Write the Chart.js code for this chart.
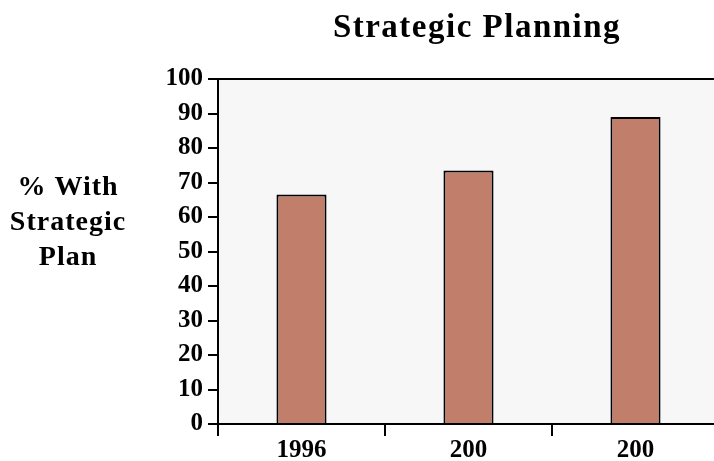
<!DOCTYPE html>
<html>
<head>
<meta charset="utf-8">
<script src="https://cdn.jsdelivr.net/npm/chart.js@4/dist/chart.umd.min.js"></script>
<style>
  html, body { margin: 0; padding: 0; background: #fff; overflow: hidden; }
  #wrap { width: 719px; height: 461px; }
</style>
</head>
<body>
<div id="wrap"><canvas id="myChart"></canvas></div>
<script>
const years = ["1996", "200", "200"];
const withPlan = [66.5, 73.5, 89];
const yTicks = [0, 10, 20, 30, 40, 50, 60, 70, 80, 90, 100];
const chartTitle = "Strategic Planning";
const yTitleLines = ["% With", "Strategic", "Plan"];

const serif = "'Liberation Serif', 'Times New Roman', serif";

// plot background plus the title and the stacked y-axis caption
const decorations = {
    id: "decorations",
    beforeDraw(chart) {
        const { ctx, chartArea } = chart;
        ctx.save();
        ctx.fillStyle = "#f7f7f7";
        ctx.fillRect(chartArea.left, chartArea.top, chartArea.right - chartArea.left, chartArea.bottom - chartArea.top);
        ctx.restore();
    },
    afterDraw(chart) {
        const { ctx } = chart;
        ctx.save();
        ctx.fillStyle = "#000";
        ctx.textAlign = "center";
        ctx.textBaseline = "middle";
        ctx.font = "bold 33px " + serif;
        ctx.letterSpacing = "1.5px";
        ctx.fillText(chartTitle, 477, 28);
        ctx.font = "bold 28px " + serif;
        ctx.letterSpacing = "1px";
        yTitleLines.forEach((line, i) => {
            ctx.fillText(line, 68, 188 + i * 35);
        });
        ctx.restore();
    }
};

const myChart = new Chart("myChart", {
    type: "bar",
    data: {
        labels: years,
        datasets: [
            {
                label: "% With Strategic Plan",
                data: withPlan,
                backgroundColor: "#c07e6b",
                borderColor: "#000",
                borderWidth: 2,
                barPercentage: 0.3,
                categoryPercentage: 1
            }
        ]
    },
    options: {
        responsive: true,
        maintainAspectRatio: false,
        animation: false,
        layout: {
            padding: { top: 79, right: 0, left: 0, bottom: 0 }
        },
        plugins: {
            legend: { display: false },
            title: { display: false },
            tooltip: { enabled: false }
        },
        scales: {
            x: {
                afterFit: (s) => { s.height = 37; },
                border: { color: "#000", width: 2 },
                grid: {
                    offset: true,
                    drawOnChartArea: false,
                    tickLength: 12,
                    tickColor: "#000",
                    lineWidth: 2
                },
                ticks: {
                    color: "#000",
                    padding: 0,
                    font: { family: serif, size: 25, weight: "bold" }
                }
            },
            y: {
                min: 0,
                max: 100,
                afterFit: (s) => { s.width = 218; },
                afterBuildTicks: (s) => { s.ticks = yTicks.map((v) => ({ value: v })); },
                border: { color: "#000", width: 2 },
                grid: {
                    color: (c) => (c.tick && c.tick.value === 100 ? "#000" : "rgba(0,0,0,0)"),
                    lineWidth: 2,
                    tickLength: 10,
                    tickColor: "#000"
                },
                ticks: {
                    color: "#000",
                    padding: 5,
                    font: { family: serif, size: 25, weight: "bold" }
                }
            }
        }
    },
    plugins: [decorations]
});
</script>
</body>
</html>
